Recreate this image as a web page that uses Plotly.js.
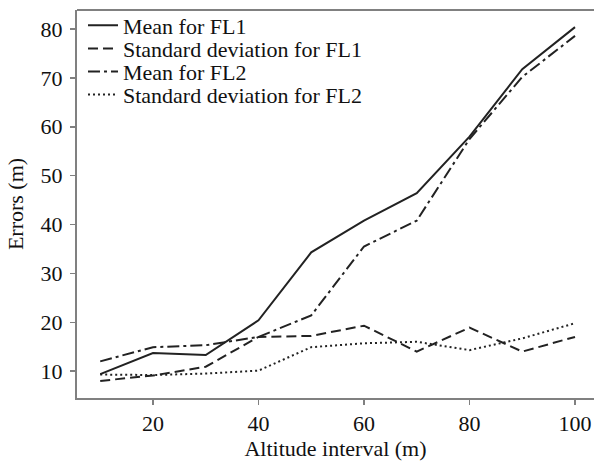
<!DOCTYPE html>
<html>
<head>
<meta charset="utf-8">
<script src="https://cdn.plot.ly/plotly-3.0.1.min.js"></script>
<style>html,body{margin:0;padding:0;background:#fff;}#chart{width:594px;height:463px;}</style>
</head>
<body>
<div id="chart"></div>
<script>
const altitude = [10, 20, 30, 40, 50, 60, 70, 80, 90, 100];
const meanFL1 = [9.4, 13.7, 13.3, 20.4, 34.3, 40.8, 46.4, 58.0, 71.8, 80.4];
const sdFL1 = [8.0, 9.1, 10.9, 17.0, 17.2, 19.3, 14.0, 18.9, 14.0, 17.0];
const meanFL2 = [12.0, 14.9, 15.3, 17.0, 21.4, 35.5, 40.8, 57.5, 70.2, 78.6];
const sdFL2 = [9.3, 9.2, 9.5, 10.1, 14.9, 15.7, 16.0, 14.3, 16.7, 19.8];
const seriesNames = ["Mean for FL1", "Standard deviation for FL1", "Mean for FL2", "Standard deviation for FL2"];
const xTicks = [20, 40, 60, 80, 100];
const yTicks = [10, 20, 30, 40, 50, 60, 70, 80];

const font = "'Liberation Serif', 'Times New Roman', serif";
const lineColor = "#222";
const dashes = ["solid", "10px,5px", "12px,4px,3px,4px", "2px,3px"];
const seriesData = [meanFL1, sdFL1, meanFL2, sdFL2];
const legendIds = ["legend", "legend2", "legend3", "legend4"];
const legendY = [0.960, 0.9005, 0.841, 0.7815];

const traces = seriesData.map((ys, i) => ({
  x: altitude, y: ys, type: "scatter", mode: "lines", name: seriesNames[i],
  line: {color: lineColor, width: 2, dash: dashes[i]},
  legend: legendIds[i]
}));

const layout = {
  width: 594, height: 463,
  margin: {l: 77, r: 0, t: 10, b: 65},
  paper_bgcolor: "#fff", plot_bgcolor: "#fff",
  font: {family: font, size: 22, color: "#111"},
  showlegend: true,
  xaxis: {
    range: [5.6, 103.6], tickvals: xTicks, ticktext: xTicks.map(String),
    showgrid: false, zeroline: false, showline: true, linecolor: "#808080", linewidth: 2,
    ticks: "outside", ticklen: 5, tickwidth: 1.5, tickcolor: "#808080",
    tickfont: {family: font, size: 22, color: "#111"},
    title: {text: "Altitude interval (m)", font: {family: font, size: 22, color: "#111"}, standoff: 4}
  },
  yaxis: {
    range: [4.5, 83.9], tickvals: yTicks, ticktext: yTicks.map(String),
    showgrid: false, zeroline: false, showline: true, linecolor: "#808080", linewidth: 2,
    ticks: "outside", ticklen: 5, tickwidth: 1.5, tickcolor: "#808080", ticklabelstandoff: 3,
    tickfont: {family: font, size: 22, color: "#111"},
    title: {text: "Errors (m)", font: {family: font, size: 22, color: "#111"}, standoff: 11}
  },
  shapes: [{type: "line", xref: "paper", yref: "paper", x0: 0, x1: 1, y0: 1, y1: 1,
            line: {color: "#808080", width: 2}}]
};
legendIds.forEach((id, i) => {
  layout[id] = {x: 0.0116, y: legendY[i], xanchor: "left", yanchor: "middle",
    bgcolor: "rgba(0,0,0,0)", borderwidth: 0,
    font: {family: font, size: 22, color: "#111"}};
});

Plotly.newPlot("chart", traces, layout, {displayModeBar: false, staticPlot: true});
</script>
</body>
</html>
